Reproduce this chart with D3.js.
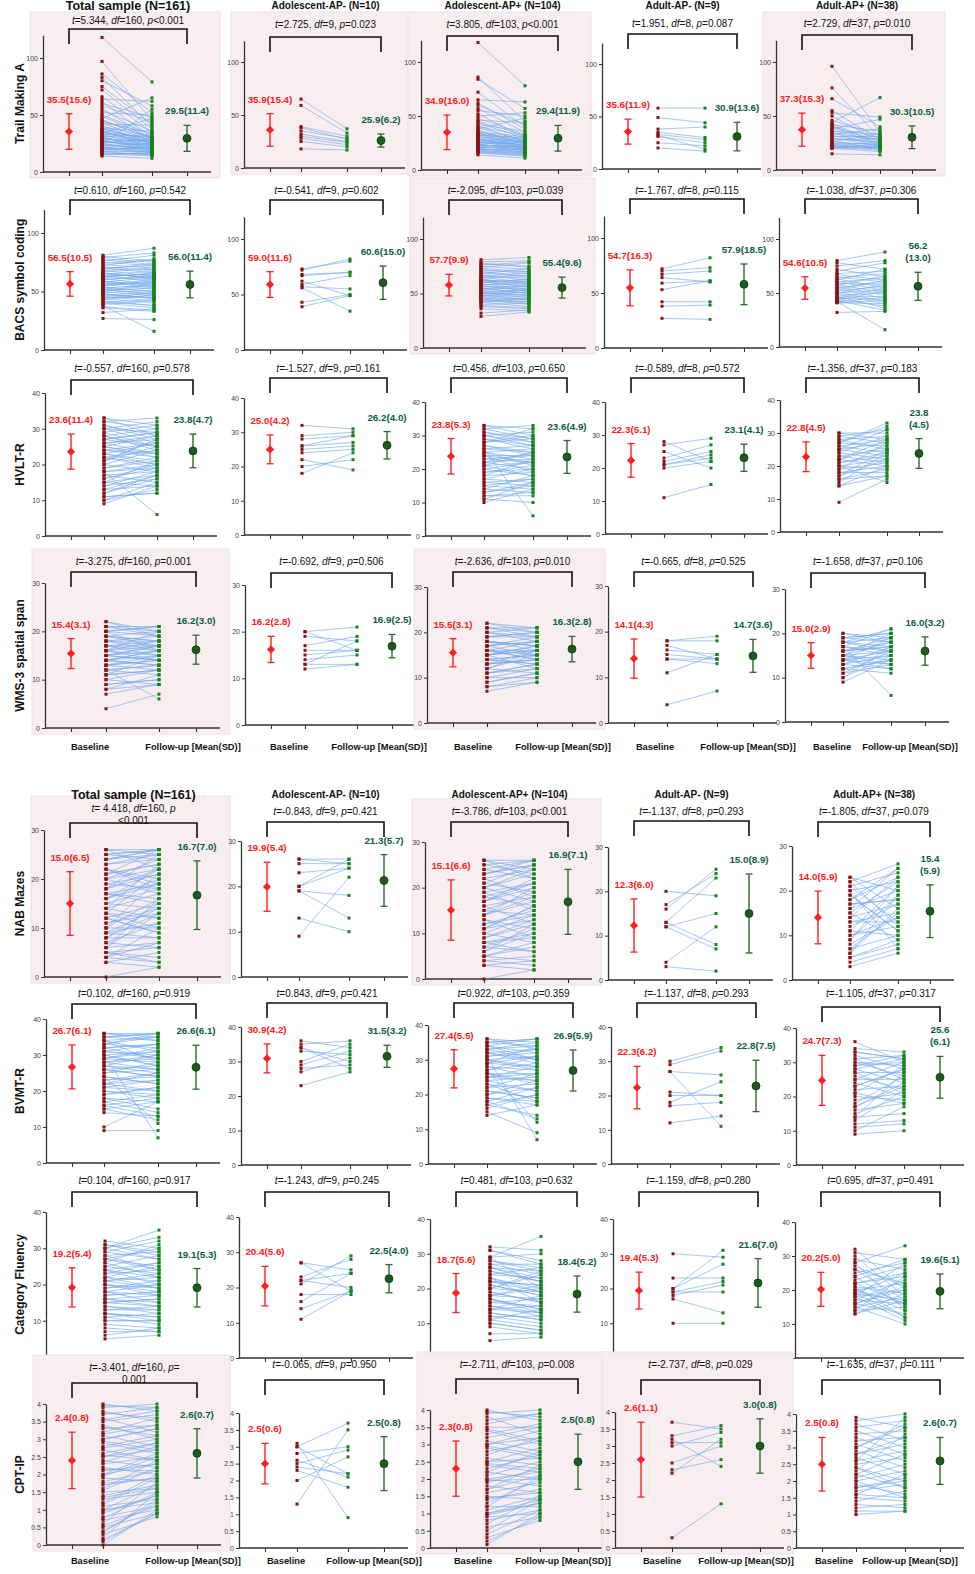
<!DOCTYPE html>
<html><head><meta charset="utf-8">
<script src="https://cdn.jsdelivr.net/npm/d3@7"></script>
<style>
body{margin:0;background:#fff;}
svg text{font-family:"Liberation Sans",Arial,sans-serif;white-space:pre;}
</style>
</head><body>
<svg id="chart" width="975" height="1574"></svg>
<script>
// ---------------- DATA ----------------
const groups = ["Total sample (N=161)","Adolescent-AP- (N=10)","Adolescent-AP+ (N=104)","Adult-AP- (N=9)","Adult-AP+ (N=38)"];
const measures = ["Trail Making A","BACS symbol coding","HVLT-R","WMS-3 spatial span","NAB Mazes","BVMT-R","Category Fluency","CPT-IP"];
const timepoints = ["Baseline mean","Baseline","Follow-up","Follow-up mean"];
const xLabels = ["Baseline","Follow-up [Mean(SD)]"];
const yTicks = [[0,50,100],[0,50,100],[0,10,20,30,40],[0,10,20,30],[0,10,20,30],[0,10,20,30,40],[0,10,20,30,40],[0,0.5,1,1.5,2,2.5,3,3.5,4]];
const yAxisMax = [120,120,40,30,30,40,40,4];

const stats = [
 ["t=5.344, df=160, p<0.001","t=2.725, df=9, p=0.023","t=3.805, df=103, p<0.001","t=1.951, df=8, p=0.087","t=2.729, df=37, p=0.010"],
 ["t=0.610, df=160, p=0.542","t=-0.541, df=9, p=0.602","t=-2.095, df=103, p=0.039","t=-1.767, df=8, p=0.115","t=-1.038, df=37, p=0.306"],
 ["t=-0.557, df=160, p=0.578","t=-1.527, df=9, p=0.161","t=0.456, df=103, p=0.650","t=-0.589, df=8, p=0.572","t=-1.356, df=37, p=0.183"],
 ["t=-3.275, df=160, p=0.001","t=-0.692, df=9, p=0.506","t=-2.636, df=103, p=0.010","t=-0.665, df=8, p=0.525","t=-1.658, df=37, p=0.106"],
 ["t= 4.418, df=160, p\n<0.001","t=-0.843, df=9, p=0.421","t=-3.786, df=103, p<0.001","t=-1.137, df=8, p=0.293","t=-1.805, df=37, p=0.079"],
 ["t=0.102, df=160, p=0.919","t=0.843, df=9, p=0.421","t=0.922, df=103, p=0.359","t=-1.137, df=8, p=0.293","t=-1.105, df=37, p=0.317"],
 ["t=0.104, df=160, p=0.917","t=-1.243, df=9, p=0.245","t=0.481, df=103, p=0.632","t=-1.159, df=8, p=0.280","t=0.695, df=37, p=0.491"],
 ["t=-3.401, df=160, p=\n0.001","t=-0.065, df=9, p=0.950","t=-2.711, df=103, p=0.008","t=-2.737, df=8, p=0.029","t=-1.635, df=37, p=0.111"]
];
const pValues = [
 [0.0005,0.023,0.0005,0.087,0.010],
 [0.542,0.602,0.039,0.115,0.306],
 [0.578,0.161,0.650,0.572,0.183],
 [0.001,0.506,0.010,0.525,0.106],
 [0.0005,0.421,0.0005,0.293,0.079],
 [0.919,0.421,0.359,0.293,0.317],
 [0.917,0.245,0.632,0.280,0.491],
 [0.001,0.950,0.008,0.029,0.111]
];

const baseMean = [
 [35.5,35.9,34.9,35.6,37.3],[56.5,59.0,57.7,54.7,54.6],[23.6,25.0,23.8,22.3,22.8],[15.4,16.2,15.5,14.1,15.0],
 [15.0,19.9,15.1,12.3,14.0],[26.7,30.9,27.4,22.3,24.7],[19.2,20.4,18.7,19.4,20.2],[2.4,2.5,2.3,2.6,2.5]];
const baseSD = [
 [15.6,15.4,16.0,11.9,15.3],[10.5,11.6,9.9,16.3,10.5],[4.9,4.2,5.3,5.1,4.5],[3.1,2.8,3.1,4.3,2.9],
 [6.5,5.4,6.6,6.0,5.9],[6.1,4.2,5.5,6.2,7.3],[5.4,5.6,5.6,5.3,5.0],[0.8,0.6,0.8,1.1,0.8]];
const folMean = [
 [29.5,25.9,29.4,30.9,30.3],[56.0,60.6,55.4,57.9,56.2],[23.8,26.2,23.6,23.1,23.8],[16.2,16.9,16.3,14.7,16.0],
 [16.7,21.3,16.9,15.0,15.4],[26.6,31.5,26.9,22.8,25.6],[19.1,22.5,18.4,21.6,19.6],[2.6,2.5,2.5,3.0,2.6]];
const folSD = [
 [11.4,6.2,11.9,13.6,10.5],[11.4,15.0,9.6,18.5,13.0],[4.7,4.0,4.9,4.1,4.5],[3.0,2.5,2.8,3.6,3.2],
 [7.0,5.7,7.1,8.9,5.9],[6.1,3.2,5.9,7.5,6.1],[5.3,4.0,5.2,7.0,5.1],[0.7,0.8,0.8,0.8,0.7]];

const baseLabel = [
 ["35.5(15.6)","35.9(15.4)","34.9(16.0)","35.6(11.9)","37.3(15.3)"],
 ["56.5(10.5)","59.0(11.6)","57.7(9.9)","54.7(16.3)","54.6(10.5)"],
 ["23.6(11.4)","25.0(4.2)","23.8(5.3)","22.3(5.1)","22.8(4.5)"],
 ["15.4(3.1)","16.2(2.8)","15.5(3.1)","14.1(4.3)","15.0(2.9)"],
 ["15.0(6.5)","19.9(5.4)","15.1(6.6)","12.3(6.0)","14.0(5.9)"],
 ["26.7(6.1)","30.9(4.2)","27.4(5.5)","22.3(6.2)","24.7(7.3)"],
 ["19.2(5.4)","20.4(5.6)","18.7(5.6)","19.4(5.3)","20.2(5.0)"],
 ["2.4(0.8)","2.5(0.6)","2.3(0.8)","2.6(1.1)","2.5(0.8)"]];
const folLabel = [
 ["29.5(11.4)","25.9(6.2)","29.4(11.9)","30.9(13.6)","30.3(10.5)"],
 ["56.0(11.4)","60.6(15.0)","55.4(9.6)","57.9(18.5)","56.2\n(13.0)"],
 ["23.8(4.7)","26.2(4.0)","23.6(4.9)","23.1(4.1)","23.8\n(4.5)"],
 ["16.2(3.0)","16.9(2.5)","16.3(2.8)","14.7(3.6)","16.0(3.2)"],
 ["16.7(7.0)","21.3(5.7)","16.9(7.1)","15.0(8.9)","15.4\n(5.9)"],
 ["26.6(6.1)","31.5(3.2)","26.9(5.9)","22.8(7.5)","25.6\n(6.1)"],
 ["19.1(5.3)","22.5(4.0)","18.4(5.2)","21.6(7.0)","19.6(5.1)"],
 ["2.6(0.7)","2.5(0.8)","2.5(0.8)","3.0(0.8)","2.6(0.7)"]];

// individual scores, per group: Total, Adol AP-, Adol AP+, Adult AP-, Adult AP+
const tmtBase = [
 [118,97,86,83,80,75,72,66,64,62,60,58,56,54,52,50,49,47,46,44,43,42,40,39,38,37,36,35,34,33,32,31,30,29,28,27,26,25,24,23,22,21,20,18,16,14,
  45,41,38,36,34,33,31,30,29,28,27,26,25,24,23,22,21,20,19,18,17,16,15,35],
 [65,59,39,38,35,32,30,28,25,18],
 [118,86,84,72,65,62,60,57,55,52,50,48,46,44,42,40,39,38,36,35,34,33,32,31,30,29,28,27,26,25,24,23,22,21,20,19,18,17,16,14,
  45,41,37,34,33,31,29,28,27,26,25,24,23,22,21,20,19,18,17,16],
 [58,49,38,35,33,31,25,20,32],
 [96,76,66,55,53,50,46,44,43,42,41,40,39,38,37,36,35,34,33,32,31,30,29,28,27,26,26,25,24,24,23,22,22,21,21,20,20,15]];
const tmtFollow = [
 [79,45,52,40,58,42,38,35,62,30,48,44,28,36,50,33,30,65,29,34,27,41,31,25,36,28,24,30,47,22,26,33,21,27,20,24,23,19,55,21,18,17,22,15,16,12,
  30,25,28,22,27,31,20,24,26,19,23,29,18,21,25,17,20,16,22,18,15,14,17,26],
 [37,33,30,27,28,25,24,22,20,17],
 [78,45,57,40,63,38,42,35,50,30,53,33,44,29,36,32,27,48,25,31,24,28,30,22,26,21,27,23,20,24,19,21,18,22,16,17,15,14,13,11,
  32,26,24,29,22,27,20,25,23,21,26,19,22,18,20,17,19,16,15,13],
 [58,44,40,30,28,25,22,17,19],
 [35,30,40,28,49,26,32,67,24,36,22,30,27,47,25,33,21,28,38,24,31,22,26,29,20,23,34,21,25,19,20,22,18,24,20,21,17,14]];
const bacsBase = [
 [81,79,78,76,75,73,72,70,69,68,67,66,65,64,63,62,61,60,59,58,57,56,55,54,53,52,51,50,49,48,47,46,45,44,43,42,41,40,38,36,32,27,
  80,77,74,71,68,65,62,59,56,53,50,47,44,41,39,37,60,58,55,52,63,66,70,48],
 [73,72,68,67,62,59,57,56,43,39],
 [81,79,77,75,74,72,71,70,68,67,66,65,64,63,62,61,60,59,58,57,56,55,54,53,52,51,50,49,48,47,46,45,44,43,42,40,38,32,29,
  78,76,73,69,66,63,60,57,54,51,48,45,42,39,36,58,62,55,50,47],
 [72,70,67,64,59,53,42,38,27],
 [80,78,75,72,70,68,67,65,64,63,62,61,60,59,58,57,56,55,54,53,52,51,50,50,49,48,47,46,45,45,44,43,43,42,42,41,41,32]];
const bacsFollow = [
 [87,83,75,81,72,70,78,66,74,63,69,61,67,58,65,60,56,64,54,62,57,52,59,50,55,48,53,46,51,44,49,42,45,40,47,38,43,36,16,33,35,26,
  76,73,77,68,70,62,66,55,60,50,57,45,49,38,42,34,63,53,58,47,65,61,72,44],
 [80,82,70,70,49,67,55,35,50,49],
 [83,80,75,72,78,68,70,66,73,62,64,60,67,58,61,56,63,54,59,52,57,50,55,48,53,46,51,44,49,47,42,45,40,43,38,41,36,35,33,
  74,79,70,65,69,59,63,53,57,48,52,41,46,37,34,61,56,50,54,44],
 [82,73,70,60,61,61,42,39,26],
 [88,72,80,65,78,70,62,60,68,55,72,52,64,58,50,66,48,60,45,62,56,42,58,53,40,50,36,47,55,44,38,52,34,46,16,43,40,33]];
const hvltBase = [
 [33,32,31,30,29,28,27,26,25,24,23,22,21,20,19,18,17,16,15,14,13,12,11,10,9,33,30,27,24,21,18,15,12,28,25,22,
  32,31,29,28,26,25,23,22,20,19,17,16,14,13,11,10,30,27,24,21,18,15,26,23],
 [32,29,28,26,26,25,24,22,20,18],
 [33,32,31,30,29,28,27,26,25,24,23,22,21,20,19,18,17,16,15,14,13,12,11,10,32,29,26,23,20,17,14,28,25,22,
  33,31,30,28,27,25,24,22,21,19,18,16,15,13,12,11,30,26,24,21],
 [28,27,25,23,22,21,21,20,11],
 [30,30,29,29,28,28,27,27,26,26,25,25,24,24,23,23,22,22,21,21,20,20,19,19,18,18,17,17,16,16,15,14,14,22,25,27,9,20]];
const hvltFollow = [
 [31,33,27,32,25,30,29,23,28,26,21,24,27,18,22,20,15,19,17,18,14,16,12,13,14,28,26,29,22,25,6,21,17,24,23,20,
  30,28,31,25,27,22,26,19,24,21,18,20,16,17,12,15,29,25,23,27,19,14,28,20],
 [31,30,29,29,27,26,25,19,22,24],
 [30,33,28,31,26,29,25,27,23,24,22,20,25,18,21,19,16,17,14,13,15,12,16,14,29,27,6,24,22,20,18,32,21,23,
  32,29,27,30,24,26,22,25,18,20,23,15,17,16,13,10,28,25,19,22],
 [22,29,20,27,25,23,24,22,15],
 [28,30,27,31,29,25,26,32,24,28,27,23,29,22,25,21,26,20,24,23,22,19,21,27,20,18,22,25,19,17,24,17,20,28,31,33,16,15]];
const wmsBase = [
 [22,21,20,19,18,17,16,15,14,13,12,11,10,9,8,7,4,21,19,17,15,13,11,20,18,16,14,12,16,15,14,
  22,20,19,18,17,16,15,14,13,12,11,10,9,21,18,17,15,14,13,16,19,12,8,20],
 [20,20,19,17,16,15,14,13,12,13],
 [22,21,20,19,18,17,16,15,14,13,12,11,10,9,8,7,21,19,17,15,13,11,20,18,16,14,12,17,16,15,
  22,20,19,18,17,16,15,14,13,12,11,10,9,8,21,18,16,14,15,13],
 [18,18,17,16,15,14,14,11,4],
 [20,19,19,18,18,17,17,16,16,15,15,15,14,14,14,13,13,12,12,11,11,10,10,9,16,17,18,15,14,13,19,20,12,16,15,14,18,17]];
const wmsFollow = [
 [20,21,19,20,18,17,18,16,15,14,13,15,12,10,11,9,7,19,18,16,17,14,12,21,17,15,16,6,20,14,13,
  19,21,17,16,18,14,17,13,15,11,12,9,10,20,19,15,14,16,12,17,18,13,9,16],
 [21,16,18,19,16,16,15,13,13,18],
 [20,21,18,19,17,18,16,17,15,14,16,13,12,11,10,9,19,20,15,16,14,12,21,17,18,13,15,19,14,16,
  21,19,20,16,18,15,17,13,16,11,13,10,11,9,20,17,14,15,12,14],
 [18,19,14,15,14,13,14,15,7],
 [19,18,20,17,21,16,15,19,17,14,18,20,13,16,15,17,12,14,11,16,13,15,17,14,18,6,16,13,19,15,20,18,14,17,16,12,19,21]];
const nabBase = [
 [26,25,24,23,22,21,20,19,18,17,16,15,14,13,12,11,10,9,8,7,6,5,4,3,0,26,24,22,20,18,16,14,12,10,8,6,4,25,21,17,13,9,5,
  26,25,23,22,21,19,18,17,15,14,13,11,10,9,7,6,5,3,24,20,16,12,8,4],
 [26,26,25,23,20,20,19,19,13,9],
 [26,25,24,23,22,21,20,19,18,17,16,15,14,13,12,11,10,9,8,7,6,5,4,3,0,26,23,20,17,14,11,8,5,24,18,12,6,
  25,23,22,20,19,17,16,14,13,11,10,8,7,5,4,21,15,9,3,26],
 [20,17,16,13,13,12,4,3,12],
 [23,22,21,20,19,18,17,16,15,14,13,12,11,10,9,8,7,6,5,4,3,23,21,19,17,15,13,11,9,7,5,22,18,14,10,6,16,20]];
const nabFollow = [
 [26,24,26,25,20,23,22,18,21,16,19,14,17,12,15,13,10,11,8,6,7,4,3,2,2,25,26,18,24,22,20,12,9,16,15,13,10,26,23,19,21,14,6,
  22,26,24,19,26,21,25,15,18,23,10,14,20,8,11,16,3,5,25,17,22,9,13,7],
 [26,25,25,24,26,24,18,13,10,22],
 [26,26,22,25,24,19,23,21,16,20,18,14,17,11,15,13,8,12,9,6,10,4,3,2,2,24,25,17,22,18,16,10,7,26,21,14,12,
  23,26,18,24,15,21,12,20,9,16,14,6,11,8,5,25,19,13,4,22],
 [19,24,25,23,8,7,12,2,15],
 [16,26,13,22,11,25,18,20,9,23,15,17,21,12,19,14,10,16,8,7,6,20,24,11,18,22,13,10,21,15,9,12,23,17,14,19,25,7]];
const bvmtBase = [
 [36,35,34,33,32,31,30,29,28,27,26,25,24,23,22,21,20,19,18,17,16,15,14,10,9,36,34,32,30,28,26,24,22,35,31,27,29,
  36,35,34,33,32,31,30,29,28,27,26,25,24,23,22,21,20,19,18,17,16,15,33,30],
 [36,35,34,33,30,29,28,27,23,34],
 [36,35,34,33,32,31,30,29,28,27,26,25,24,23,22,21,20,19,18,17,15,14,35,33,31,29,27,25,23,34,30,26,32,
  36,35,34,33,32,31,30,29,28,27,26,25,24,22,21,20,19,18,17,16],
 [30,29,27,27,21,20,18,17,12],
 [36,34,33,32,31,30,30,29,28,28,27,26,25,24,23,22,21,20,19,18,17,16,15,14,13,12,11,10,9,33,31,29,27,25,23,21,17,14]];
const bvmtFollow = [
 [36,34,35,32,33,30,31,28,29,25,27,26,22,24,23,20,19,21,17,14,18,12,13,17,9,35,28,33,7,30,24,11,25,36,29,26,31,
  34,36,31,35,29,33,27,32,26,30,24,28,22,25,20,23,18,21,15,19,13,17,36,27],
 [34,36,30,32,35,33,29,31,27,28],
 [35,36,32,34,30,33,28,31,27,29,24,26,25,21,23,19,22,18,13,20,9,17,34,30,7,28,12,24,18,36,31,26,33,
  33,36,30,35,29,32,27,34,25,31,23,28,21,26,19,24,17,22,14,20],
 [34,33,11,26,20,20,24,18,14],
 [30,33,31,28,32,29,26,30,24,31,27,22,25,20,28,23,29,19,21,26,24,18,20,27,22,13,12,17,10,31,25,32,21,30,28,18,23,15]];
const cfBase = [
 [32,31,30,29,28,27,26,25,24,23,22,21,20,19,18,17,16,15,14,13,12,11,10,9,7,5,30,27,24,21,18,15,12,22,16,20,
  31,30,29,28,27,26,25,24,23,22,21,20,19,18,17,16,15,14,13,12,11,10,8,6],
 [27,27,23,22,21,22,18,16,14,11],
 [32,31,29,28,27,26,25,24,23,22,21,20,19,18,17,16,15,14,13,12,11,10,9,7,5,29,26,23,20,17,14,11,22,18,
  31,29,28,27,26,25,24,23,22,21,20,19,18,17,16,15,14,13,12,10],
 [30,23,20,20,19,19,18,17,10],
 [32,31,30,29,28,27,26,25,24,23,22,22,21,21,20,20,19,19,18,18,17,17,16,16,15,15,14,14,13,13,24,26,28,20,18,16,22,19]];
const cfFollow = [
 [30,28,35,27,29,25,31,23,26,24,21,22,19,20,17,18,15,16,13,14,10,12,10,8,7,6,33,24,22,19,20,14,11,25,17,18,
  29,27,32,24,30,22,28,20,26,19,23,17,21,15,18,14,16,12,13,11,9,10,7,8],
 [25,19,28,24,29,20,18,24,19,19],
 [31,27,35,26,24,25,22,23,20,21,18,19,16,17,14,15,12,13,11,10,9,8,7,7,6,20,22,16,25,13,18,14,19,21,
  28,30,25,27,23,22,26,19,21,18,24,16,20,14,17,13,15,11,12,8],
 [29,23,31,27,22,19,21,13,10],
 [20,29,18,26,33,21,17,28,15,27,16,24,19,12,22,14,25,17,20,11,23,16,13,21,10,18,24,15,19,17,29,22,14,16,28,20,25,12]];
const cptBase = [
 [4.0,3.9,3.8,3.7,3.6,3.5,3.4,3.3,3.2,3.1,3.0,2.9,2.8,2.7,2.6,2.5,2.4,2.3,2.2,2.1,2.0,1.9,1.8,1.7,1.6,1.5,1.4,1.3,1.2,1.1,1.0,0.9,0.8,0.7,0.6,0.5,0.4,0.3,0.2,0.1,0.0,
  3.95,3.75,3.55,3.35,3.15,2.95,2.75,2.55,2.35,2.15,1.95,1.75,1.55,1.35,1.15,0.95,0.75,0.55,0.35,0.15,3.0,2.0,1.0,2.5],
 [3.1,3.0,3.0,2.8,2.6,2.5,2.3,2.0,1.3,2.4],
 [4.0,3.9,3.8,3.6,3.5,3.4,3.3,3.1,3.0,2.9,2.8,2.6,2.5,2.4,2.3,2.2,2.1,2.0,1.9,1.8,1.7,1.6,1.5,1.4,1.3,1.2,1.1,1.0,0.9,0.8,0.6,0.5,0.3,0.1,
  3.95,3.7,3.45,3.2,2.95,2.7,2.45,2.2,1.95,1.7,1.45,1.2,0.95,0.7,0.4,0.2,3.0,2.0,1.0,2.5],
 [3.7,3.3,3.1,3.0,2.5,2.3,2.2,3.2,0.3],
 [3.9,3.8,3.7,3.6,3.5,3.4,3.3,3.2,3.1,3.0,2.9,2.8,2.7,2.6,2.5,2.4,2.3,2.2,2.1,2.0,1.9,1.8,1.7,1.6,1.5,1.4,1.3,1.2,1.1,1.0,2.6,2.2,1.8,3.0,2.4,1.6,2.8,2.0]];
const cptFollow = [
 [3.8,4.0,3.5,3.9,3.2,3.7,3.0,3.4,3.6,2.8,3.3,2.6,3.1,2.4,2.9,2.7,2.2,2.5,2.0,2.3,2.6,1.8,2.1,1.9,2.4,1.6,1.7,1.5,2.0,1.3,1.2,1.4,1.1,1.0,1.8,0.9,1.2,0.8,1.5,0.9,1.0,
  3.9,3.6,3.8,3.1,3.4,2.7,3.0,2.4,2.8,2.1,2.5,1.9,2.2,1.6,1.9,1.4,1.5,1.1,1.3,0.9,3.3,2.3,1.7,2.9],
 [0.9,3.7,2.2,3.0,2.1,2.9,1.8,2.7,3.5,2.2],
 [3.7,4.0,3.3,3.9,3.5,3.0,3.6,2.8,3.2,2.6,3.1,2.4,2.9,2.2,2.7,2.0,2.5,1.8,2.3,1.6,2.1,1.9,1.4,1.7,2.0,1.2,1.5,1.3,1.0,1.1,0.9,1.4,0.8,1.0,
  3.8,3.9,3.1,3.5,2.7,3.2,2.3,2.8,2.0,2.4,1.6,2.1,1.3,1.5,1.1,0.9,3.4,2.2,1.4,2.6],
 [3.5,3.6,3.1,3.4,3.0,2.6,3.2,2.4,1.3],
 [3.6,4.0,3.2,3.8,3.0,3.5,2.8,3.3,2.6,3.7,2.4,3.1,2.2,2.9,2.7,2.0,3.4,1.8,2.5,2.3,1.6,2.1,1.9,1.5,1.4,1.7,1.2,1.3,1.1,1.1,3.9,2.8,2.0,3.6,1.8,2.2,3.3,1.5]];

const baseScores = [tmtBase,bacsBase,hvltBase,wmsBase,nabBase,bvmtBase,cfBase,cptBase];
const folScores = [tmtFollow,bacsFollow,hvltFollow,wmsFollow,nabFollow,bvmtFollow,cfFollow,cptFollow];

// ---------------- LAYOUT ----------------
const catX = [
 [[69,102,152,187],[270,301,347,381],[447,478,525,558],[628,658,705,737],[802,832,880,912]],
 [[70,103,154,190],[270,302,350,383],[449,481,529,562],[630,662,710,744],[805,837,885,918]],
 [[71,104,157,193],[270,302,353,387],[451,484,533,567],[631,664,711,744],[806,839,887,919]],
 [[71,106,159,196],[271,305,357,392],[453,487,537,572],[634,667,717,753],[811,843,891,925]],
 [[70,106,159,197],[267,299,349,384],[451,484,534,568],[634,666,716,749],[818,850,898,930]],
 [[72,104,158,196],[267,301,350,387],[454,487,537,573],[637,670,721,756],[822,855,904,940]],
 [[72,105,159,197],[265,301,351,389],[456,490,541,577],[639,673,723,758],[821,855,905,940]],
 [[72,103,157,197],[265,297,348,384],[456,487,540,578],[641,672,721,760],[822,856,905,940]]];
const yZeroPx = [[172,168,170,169,170],[350,350,348,348,347],[536,535,536,534,532],[728,725,723,723,722],
 [977,977,979,980,980],[1163,1165,1164,1164,1165],[1357,1358,1358,1358,1358],[1545,1548,1548,1548,1548]];
const yTopPx = [[58,62,62,64,62],[233,239,239,238,239],[393,398,402,402,400],[583,585,587,586,589],
 [830,841,842,847,846],[1019,1027,1025,1027,1028],[1212,1217,1219,1219,1222],[1404,1413,1410,1412,1414]];
const bracketTop = [[29,37,36,34,35],[200,200,200,199,199],[380,378,378,378,378],[572,573,572,572,573],
 [823,822,822,821,822],[1004,1003,1003,1003,1007],[1192,1192,1192,1192,1192],[1383,1380,1379,1380,1380]];
const statY = [[20,24,24,23,23],[190,190,190,190,190],[368,368,368,368,368],[561,561,561,561,561],
 [808,811,811,811,811],[993,993,993,993,993],[1180,1180,1180,1180,1180],[1367,1364,1364,1364,1364]];
const titleY = {0:10, 4:799};
const xLabelRows = {3:750, 7:1564};
const xLabelPos = {3:[[90,193],[289,379],[473,563],[655,748],[832,910]], 7:[[90,193],[286,374],[473,563],[662,746],[834,910]]};

const svg = d3.select("#chart");
const RED = "#ff2020", DARKRED = "#8a1010", GREEN_DOT = "#15821a", GREEN_BAR = "#2a6b2a", GREEN_TXT = "#0b5d42", LINE = "#72a9ee";

function drawStat(g, str, xc, yc){
  str.split("\n").forEach((ln, li) => {
    const t = g.append("text").attr("x", xc).attr("y", yc + 3.5 + li*12.5)
      .attr("text-anchor","middle").attr("font-size",10).attr("fill","#111");
    ln.split(", ").forEach((part, pi) => {
      if (pi > 0) t.append("tspan").text(", ");
      const m = part.match(/^(t|df|p)(.*)$/);
      if (m) { t.append("tspan").attr("font-style","italic").text(m[1]); if (m[2]) t.append("tspan").text(m[2]); }
      else t.append("tspan").text(part);
    });
  });
}
function drawLabel(g, text, xPos, yCap, color){
  const lines = text.split("\n");
  const t = g.append("text").attr("text-anchor","middle").attr("font-size",9.8)
    .attr("font-weight","bold").attr("fill",color);
  lines.forEach((ln,i)=> t.append("tspan").attr("x",xPos).attr("y", yCap - 11 - (lines.length-1-i)*12).text(ln));
}

for (let r = 0; r < 8; r++) {
  for (let c = 0; c < 5; c++) {
    const cx = catX[r][c];
    const x = d3.scaleOrdinal().domain(timepoints).range(cx);
    const y0 = yZeroPx[r][c];
    const tv = yTicks[r][yTicks[r].length-1];
    const yRef = d3.scaleLinear().domain([0, tv]).range([y0, yTopPx[r][c]]);
    const y = d3.scaleLinear().domain([0, yAxisMax[r]]).range([y0, yRef(yAxisMax[r])]);
    const axisX = cx[0] - 26, xEnd = cx[3] + 24;
    const g = svg.append("g");

    if (pValues[r][c] < 0.05) {
      const top = Math.max(statY[r][c] - 12, 12);
      g.append("rect").attr("x", axisX - 13).attr("y", top)
        .attr("width", (xEnd + 9) - (axisX - 13)).attr("height", y0 + 6 - top)
        .attr("fill","#f8eef0").attr("stroke","#efdfe3");
    }

    // y axis
    const ya = g.append("g").attr("transform", `translate(${axisX},0)`)
      .call(d3.axisLeft(y).tickValues(yTicks[r]).tickSize(3).tickSizeOuter(0).tickPadding(2).tickFormat(d3.format("~g")));
    ya.select(".domain").attr("stroke","#333").attr("stroke-width",1.3);
    ya.selectAll(".tick line").attr("stroke","#333");
    ya.selectAll(".tick text").attr("font-size",7).attr("fill","#444").attr("font-family",'"Liberation Sans",Arial,sans-serif');

    // x axis
    const xa = g.append("g").attr("transform", `translate(0,${y0})`)
      .call(d3.axisBottom(x).tickSize(4).tickSizeOuter(0).tickFormat(""));
    xa.select(".domain").remove();
    xa.selectAll(".tick line").attr("stroke","#333").attr("stroke-width",1.1);
    xa.append("line").attr("x1", axisX).attr("x2", xEnd).attr("stroke","#333").attr("stroke-width",1.4);

    // individual trajectories
    const b = baseScores[r][c], f = folScores[r][c];
    const n = Math.min(b.length, f.length);
    const pairs = d3.range(n).map(i => ({b: b[i], f: f[i]}));
    g.append("g").selectAll("line").data(pairs).join("line")
      .attr("x1", x("Baseline")).attr("x2", x("Follow-up"))
      .attr("y1", d => y(d.b)).attr("y2", d => y(d.f))
      .attr("stroke", LINE).attr("stroke-width", 0.8).attr("stroke-opacity", 0.8);
    g.append("g").selectAll("rect").data(b.slice(0,n)).join("rect")
      .attr("x", x("Baseline") - 1.5).attr("y", d => y(d) - 1.5).attr("width", 3).attr("height", 3).attr("fill", DARKRED);
    g.append("g").selectAll("rect").data(f.slice(0,n)).join("rect")
      .attr("x", x("Follow-up") - 1.5).attr("y", d => y(d) - 1.5).attr("width", 3).attr("height", 3).attr("fill", GREEN_DOT);

    // baseline mean (SD)
    const mb = baseMean[r][c], sb = baseSD[r][c], xb = x("Baseline mean");
    g.append("line").attr("x1", xb).attr("x2", xb).attr("y1", y(mb - sb)).attr("y2", y(mb + sb)).attr("stroke", RED).attr("stroke-width", 1.4);
    [mb - sb, mb + sb].forEach(v => g.append("line").attr("x1", xb - 3.5).attr("x2", xb + 3.5).attr("y1", y(v)).attr("y2", y(v)).attr("stroke", RED).attr("stroke-width", 1.3));
    g.append("path").attr("d", d3.symbol(d3.symbolSquare, 34)()).attr("transform", `translate(${xb},${y(mb)}) rotate(45)`).attr("fill", RED);

    // follow-up mean (SD)
    const mf = folMean[r][c], sf = folSD[r][c], xf = x("Follow-up mean");
    g.append("line").attr("x1", xf).attr("x2", xf).attr("y1", y(mf - sf)).attr("y2", y(mf + sf)).attr("stroke", GREEN_BAR).attr("stroke-width", 1.4);
    [mf - sf, mf + sf].forEach(v => g.append("line").attr("x1", xf - 3.5).attr("x2", xf + 3.5).attr("y1", y(v)).attr("y2", y(v)).attr("stroke", GREEN_BAR).attr("stroke-width", 1.3));
    g.append("path").attr("d", d3.symbol(d3.symbolCircle, 50)()).attr("transform", `translate(${xf},${y(mf)})`).attr("fill", "#1c5a1e").attr("stroke","#0c3a10").attr("stroke-width",0.8);

    drawLabel(g, baseLabel[r][c], xb, y(mb + sb), RED);
    drawLabel(g, folLabel[r][c], xf, y(mf + sf), GREEN_TXT);

    // bracket + stats
    const bt = bracketTop[r][c];
    g.append("path").attr("d", `M${xb},${bt+15}V${bt}H${xf}V${bt+15}`).attr("fill","none").attr("stroke","#111").attr("stroke-width",1.6);
    drawStat(g, stats[r][c], (xb + xf)/2, statY[r][c]);

    // titles
    if (titleY[r] !== undefined) {
      g.append("text").attr("x", (xb + xf)/2).attr("y", titleY[r] - (c === 0 ? 0 : 1))
        .attr("text-anchor","middle").attr("font-weight","bold").attr("font-size", c === 0 ? 12.5 : 10).attr("fill","#111")
        .text(groups[c]);
    }
    // y-axis title
    if (c === 0) {
      g.append("text").attr("transform", `translate(24,${(y0 + y(yAxisMax[r]))/2}) rotate(-90)`)
        .attr("text-anchor","middle").attr("font-weight","bold").attr("font-size",12).attr("fill","#111")
        .text(measures[r]);
    }
    // x labels
    if (xLabelRows[r] !== undefined) {
      const pos = xLabelPos[r][c];
      xLabels.forEach((lab, i) => g.append("text").attr("x", pos[i]).attr("y", xLabelRows[r])
        .attr("text-anchor","middle").attr("font-weight","bold").attr("font-size",9.3).attr("fill","#111").text(lab));
    }
  }
}
</script>
</body></html>
